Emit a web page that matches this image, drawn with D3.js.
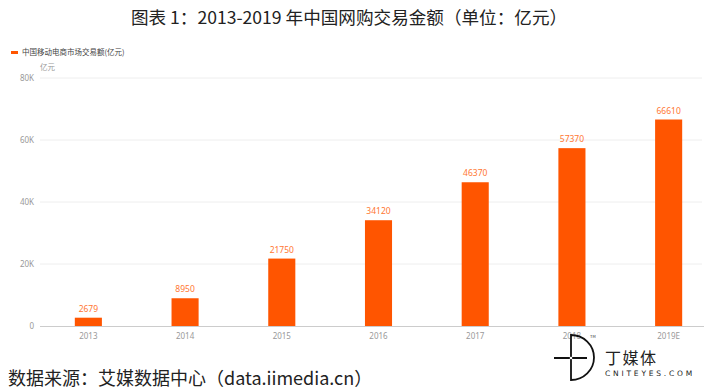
<!DOCTYPE html>
<html>
<head>
<meta charset="utf-8">
<script src="https://cdn.jsdelivr.net/npm/d3@7"></script>
<style>
  body { margin: 0; background: #fff; }
  svg { display: block; font-family: "Noto Sans CJK SC", "Noto Sans", sans-serif; }
</style>
</head>
<body>
<svg id="chart" width="704" height="392"></svg>
<script>
// data
var years = ["2013", "2014", "2015", "2016", "2017", "2018", "2019E"];
var values = [2679, 8950, 21750, 34120, 46370, 57370, 66610];
var yTicks = [0, 20000, 40000, 60000, 80000];

var svg = d3.select("#chart");

var xScale = d3.scaleBand().domain(years).range([40, 717]).paddingInner(0.72).paddingOuter(0.36);
var yScale = d3.scaleLinear().domain([0, 80000]).range([326, 78]);

// title
svg.append("text")
  .attr("x", 349).attr("y", 24)
  .attr("text-anchor", "middle")
  .attr("font-size", 17.6)
  .attr("fill", "#222")
  .text("图表 1：2013-2019 年中国网购交易金额（单位：亿元）");

// legend
svg.append("rect").attr("x", 11).attr("y", 51).attr("width", 7).attr("height", 3).attr("fill", "#ff5500");
svg.append("text")
  .attr("x", 22).attr("y", 55)
  .attr("font-size", 7.5).attr("fill", "#444")
  .text("中国移动电商市场交易额(亿元)");

// unit
svg.append("text")
  .attr("x", 40).attr("y", 70)
  .attr("font-size", 7.5).attr("fill", "#999")
  .text("亿元");

// grid lines
svg.append("g")
  .selectAll("line")
  .data(yTicks.filter(d => d > 0))
  .join("line")
  .attr("x1", 40).attr("x2", 702)
  .attr("y1", d => yScale(d)).attr("y2", d => yScale(d))
  .attr("stroke", "#eeeeee");

// y axis
var yAxis = d3.axisLeft(yScale)
  .tickValues(yTicks)
  .tickSize(0)
  .tickPadding(6)
  .tickFormat(d => d === 0 ? "0" : (d / 1000) + "K");
var yg = svg.append("g").attr("transform", "translate(40,0)").call(yAxis);
yg.select(".domain").remove();
yg.selectAll("text").attr("fill", "#999").attr("font-size", 8).attr("font-family", "Noto Sans, sans-serif");

// bars
svg.append("g")
  .selectAll("rect")
  .data(values)
  .join("rect")
  .attr("x", (d, i) => xScale(years[i]))
  .attr("width", xScale.bandwidth())
  .attr("y", d => yScale(d))
  .attr("height", d => yScale(0) - yScale(d))
  .attr("fill", "#ff5500");

// value labels
svg.append("g")
  .selectAll("text")
  .data(values)
  .join("text")
  .attr("x", (d, i) => xScale(years[i]) + xScale.bandwidth() / 2)
  .attr("y", d => yScale(d) - 6)
  .attr("text-anchor", "middle")
  .attr("font-size", 8.5)
  .attr("font-family", "Noto Sans, sans-serif")
  .attr("fill", "#ff7733")
  .text(d => d);

// x axis
var xAxis = d3.axisBottom(xScale).tickSize(0).tickPadding(7);
var xg = svg.append("g").attr("transform", "translate(0,326)").call(xAxis);
xg.select(".domain").attr("d", "M40,0.5H704").attr("stroke", "#cccccc");
xg.selectAll("text").attr("fill", "#999").attr("font-size", 8).attr("font-family", "Noto Sans, sans-serif");

// source
svg.append("text")
  .attr("x", 8).attr("y", 385)
  .attr("font-size", 18)
  .attr("fill", "#222")
  .text("数据来源：艾媒数据中心（data.iimedia.cn）");

// logo
var logo = svg.append("g");
logo.append("path")
  .attr("d", "M571,335 A23,22.5 0 0 1 571,380 Z")
  .attr("fill", "none").attr("stroke", "#111").attr("stroke-width", 1.8);
logo.append("line").attr("x1", 554).attr("x2", 587).attr("y1", 358).attr("y2", 358)
  .attr("stroke", "#111").attr("stroke-width", 1.8);
logo.append("circle").attr("cx", 571).attr("cy", 358).attr("r", 1.3).attr("fill", "#fff");
logo.append("text").attr("x", 590).attr("y", 338).attr("font-size", 4).attr("fill", "#333").text("TM");
logo.append("text").attr("x", 605).attr("y", 364).attr("font-size", 16).attr("letter-spacing", 1.5)
  .attr("fill", "#222").text("丁媒体");
logo.append("text").attr("x", 605).attr("y", 376).attr("font-size", 7.5).attr("letter-spacing", 2.8)
  .attr("font-family", "DejaVu Sans, sans-serif").attr("fill", "#222").text("CNITEYES.COM");
</script>
</body>
</html>
